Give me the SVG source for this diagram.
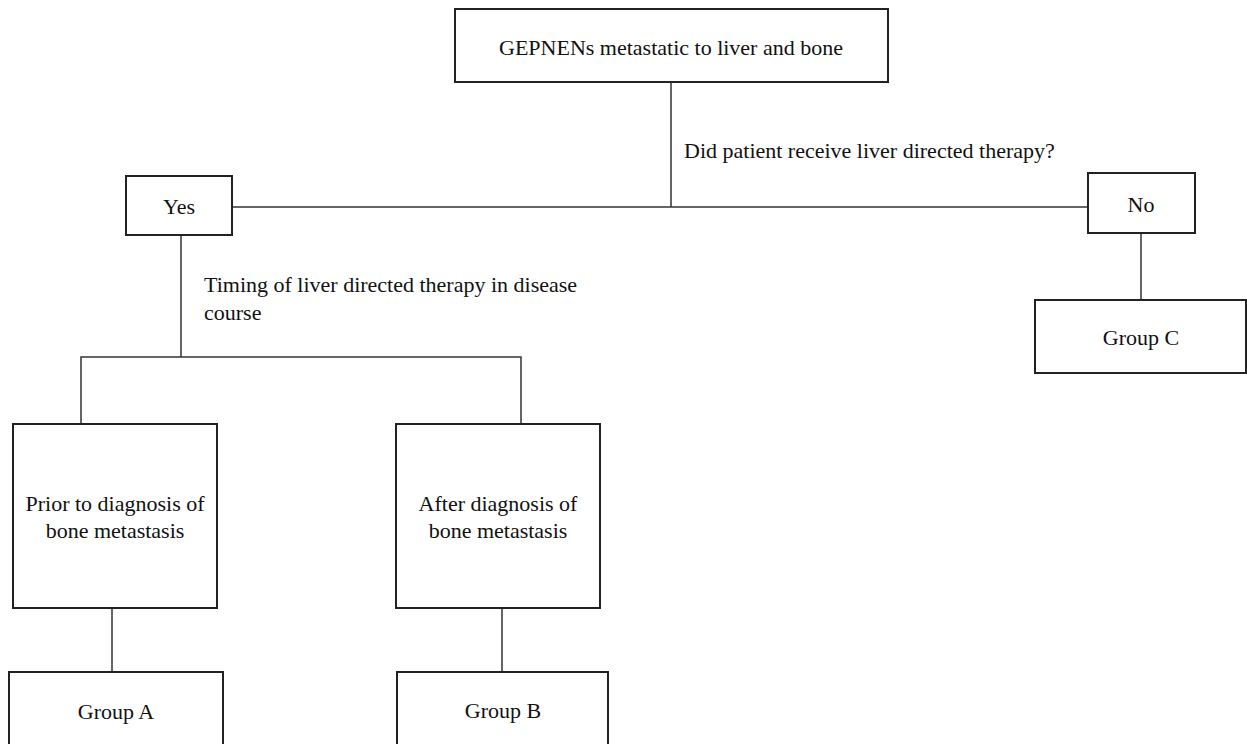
<svg xmlns="http://www.w3.org/2000/svg" width="1247" height="744" viewBox="0 0 1247 744">
<style>
.box{fill:#fff;stroke:#222;stroke-width:2}
.ln{stroke:#333;stroke-width:1.5;fill:none}
text{font-family:"Liberation Serif","Times New Roman",serif;font-size:22px;fill:#111}
.c{text-anchor:middle}
</style>
<rect width="1247" height="744" fill="#fff"/>
<g id="connectors">
<path class="ln" d="M671,82 V207 M232,207 H1088 M181,235 V357 M81,424 V357 H521 V424 M112,608 V672 M502,608 V672 M1141,233 V300"/>
<text x="684" y="158">Did patient receive liver directed therapy?</text>
<text x="204" y="292">Timing of liver directed therapy in disease</text>
<text x="204" y="320">course</text>
</g>
<g id="root"><rect class="box" x="455" y="9" width="433" height="73"/><text class="c" x="671" y="55">GEPNENs metastatic to liver and bone</text></g>
<g id="yes"><rect class="box" x="126" y="176" width="106" height="59"/><text class="c" x="179" y="214">Yes</text></g>
<g id="no"><rect class="box" x="1088" y="173" width="107" height="60"/><text class="c" x="1141" y="212">No</text></g>
<g id="groupC"><rect class="box" x="1035" y="300" width="211" height="73"/><text class="c" x="1141" y="345">Group C</text></g>
<g id="prior"><rect class="box" x="13" y="424" width="204" height="184"/><text class="c" x="115" y="511">Prior to diagnosis of</text><text class="c" x="115" y="538">bone metastasis</text></g>
<g id="after"><rect class="box" x="396" y="424" width="204" height="184"/><text class="c" x="498" y="511">After diagnosis of</text><text class="c" x="498" y="538">bone metastasis</text></g>
<g id="groupA"><rect class="box" x="9" y="672" width="214" height="80"/><text class="c" x="116" y="719">Group A</text></g>
<g id="groupB"><rect class="box" x="397" y="672" width="211" height="80"/><text class="c" x="503" y="718">Group B</text></g>
</svg>
